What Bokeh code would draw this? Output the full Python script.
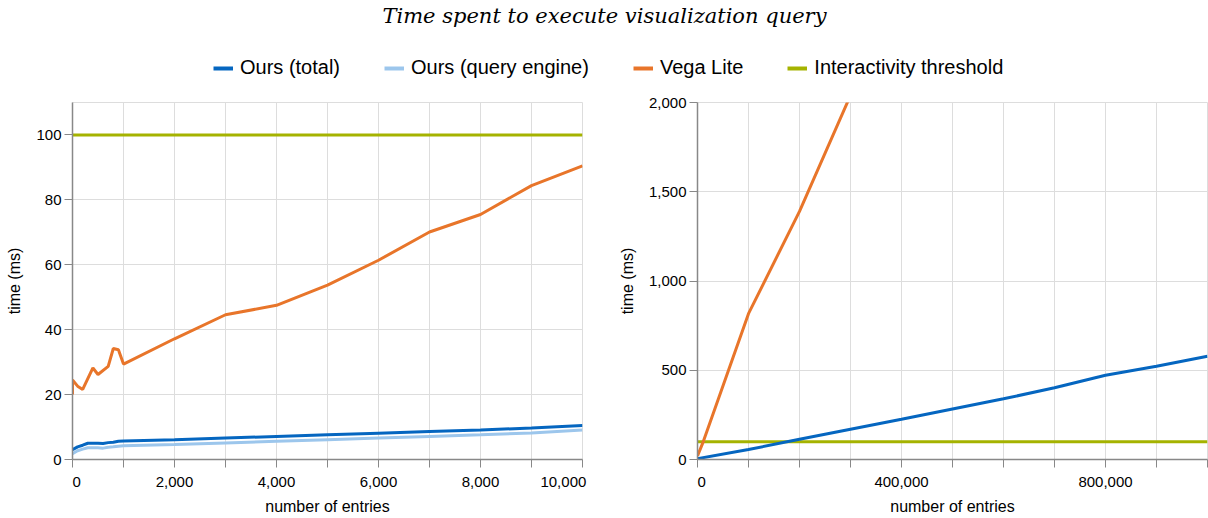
from bokeh.plotting import figure
from bokeh.models import (Range1d, SingleIntervalTicker, NumeralTickFormatter, Legend,
                          LegendItem, Label)
from bokeh.layouts import column, row
from bokeh.embed import file_html
from bokeh.resources import INLINE

# ---------------- data ----------------
title_text = "Time spent to execute visualization query"
series_names = ["Ours (total)", "Ours (query engine)", "Vega Lite", "Interactivity threshold"]
colors = ["#0566c0", "#9cc6ec", "#e8752a", "#a5b300"]
threshold_ms = 100

# left chart (small inputs)
small_entries = [0, 100, 200, 300, 400, 500, 600, 700, 800, 900, 1000,
                 2000, 3000, 4000, 5000, 6000, 7000, 8000, 9000, 10000]
small_total = [3.0, 3.9, 4.4, 5.0, 5.0, 5.0, 4.9, 5.2, 5.3, 5.6, 5.7,
               6.1, 6.6, 7.1, 7.6, 8.1, 8.6, 9.1, 9.7, 10.5]
small_engine = [1.8, 2.7, 3.2, 3.6, 3.6, 3.6, 3.5, 3.8, 3.9, 4.1, 4.2,
                4.6, 5.1, 5.6, 6.1, 6.6, 7.1, 7.6, 8.2, 9.1]
small_vega_entries = [0, 0, 100, 200, 400, 500, 700, 800, 900, 1000,
                      2000, 3000, 4000, 5000, 6000, 7000, 8000, 9000, 10000]
small_vega = [20.0, 24.5, 22.6, 21.6, 28.2, 26.2, 28.7, 34.2, 33.8, 29.4,
              37.2, 44.6, 47.5, 53.7, 61.4, 70.1, 75.5, 84.4, 90.5]

# right chart (large inputs)
large_entries = [0, 100000, 200000, 300000, 400000, 500000, 600000, 700000,
                 800000, 900000, 1000000]
large_total = [5, 56, 113, 169, 225, 283, 340, 402, 472, 522, 578]
large_vega_entries = [0, 10000, 100000, 200000, 300000]
large_vega = [20, 90, 817, 1390, 2040]

x_ticks_left = [0, 2000, 4000, 6000, 8000, 10000]
x_ticks_right = [0, 400000, 800000]

FONT = "Liberation Sans"
NBSP = "\u00a0"


def style(p, xtick_interval, labeled, ytick_interval):
    p.xaxis.ticker = SingleIntervalTicker(interval=xtick_interval)
    p.yaxis.ticker = SingleIntervalTicker(interval=ytick_interval)
    p.xaxis.formatter = NumeralTickFormatter(format="0,0")
    p.yaxis.formatter = NumeralTickFormatter(format="0,0")
    lo, hi = p.x_range.start, p.x_range.end
    overrides = {}
    v = lo
    while v <= hi:
        iv = int(v)
        if iv not in labeled:
            overrides[iv] = ""
        v += xtick_interval
    # first / last labels flush with the axis ends, as in the original
    overrides[int(lo)] = NBSP * 2 + f"{int(lo):,}"
    if int(hi) in labeled:
        s = f"{int(hi):,}"
        overrides[int(hi)] = s + NBSP * 7
    p.xaxis.major_label_overrides = overrides
    for ax in (p.xaxis[0], p.yaxis[0]):
        ax.axis_line_color = "#888888"
        ax.axis_line_width = 1.5
        ax.major_tick_line_color = "#888888"
        ax.major_tick_out = 8
        ax.major_tick_in = 0
        ax.minor_tick_out = 0
        ax.minor_tick_in = 0
        ax.major_label_text_font = FONT
        ax.major_label_text_font_size = "15px"
        ax.major_label_text_color = "#000000"
        ax.axis_label_text_font = FONT
        ax.axis_label_text_font_size = "16px"
        ax.axis_label_text_font_style = "normal"
        ax.axis_label_text_color = "#000000"
    p.xaxis.major_label_standoff = 5
    p.xaxis.axis_label_standoff = 5
    p.yaxis.major_label_standoff = 3
    p.yaxis.axis_label_standoff = 10
    p.grid.grid_line_color = "#dddddd"
    p.outline_line_color = "#dddddd"
    p.background_fill_color = "white"
    p.border_fill_color = "white"


HEAD_H = 92
PLOT_H = 426

left = figure(width=615, height=PLOT_H, output_backend="svg", toolbar_location=None,
              x_range=Range1d(0, 10000), y_range=Range1d(0, 110),
              min_border_left=72, min_border_right=33, min_border_top=10, min_border_bottom=59,
              x_axis_label="number of entries", y_axis_label="time (ms)")
style(left, 1000, x_ticks_left, 20)
left.line([0, 10000], [threshold_ms, threshold_ms], color=colors[3], line_width=3)
left.line(small_entries, small_engine, color=colors[1], line_width=3)
left.line(small_entries, small_total, color=colors[0], line_width=3)
left.line(small_vega_entries, small_vega, color=colors[2], line_width=3)

right = figure(width=593, height=PLOT_H, output_backend="svg", toolbar_location=None,
               x_range=Range1d(0, 1000000), y_range=Range1d(0, 2000),
               min_border_left=82, min_border_right=1, min_border_top=10, min_border_bottom=59,
               x_axis_label="number of entries", y_axis_label="time (ms)")
style(right, 100000, x_ticks_right, 500)
right.line([0, 1000000], [threshold_ms, threshold_ms], color=colors[3], line_width=3)
right.line(large_entries, large_total, color=colors[0], line_width=3)
right.line(large_vega_entries, large_vega, color=colors[2], line_width=3)

# header with title and legend
head = figure(width=1208, height=HEAD_H, output_backend="svg", toolbar_location=None,
              x_range=Range1d(0, 1208), y_range=Range1d(0, HEAD_H),
              x_axis_type=None, y_axis_type=None, min_border=0)
head.grid.visible = False
head.outline_line_color = None
head.add_layout(Label(x=604, y=77, text=title_text, text_align="center",
                      text_baseline="alphabetic", text_font="DejaVu Serif",
                      text_font_style="italic", text_font_size="21px", text_color="#000000"))
items = []
for name, c in zip(series_names, colors):
    r = head.line(x=[-50, -40], y=[-50, -50], color=c, line_width=4)
    items.append(LegendItem(label=name, renderers=[r]))
legend = Legend(items=items, orientation="horizontal", location=(213, 13),
                glyph_width=20, glyph_height=20, label_standoff=7, spacing=44,
                padding=0, margin=0, border_line_color=None, background_fill_alpha=0,
                label_text_font=FONT, label_text_font_size="20px", label_text_color="#000000")
head.add_layout(legend)

layout = column(head, row(left, right, spacing=0), spacing=0)
open("out.html", "w").write(file_html(layout, INLINE))
